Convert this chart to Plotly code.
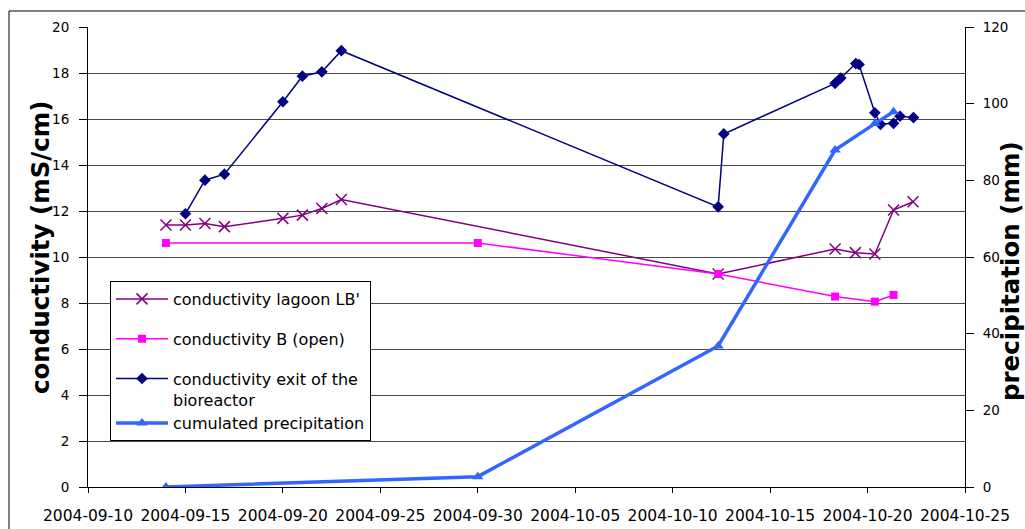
import plotly.graph_objects as go

# ---------------- data ----------------
lagoon_dates = ["2004-09-14", "2004-09-15", "2004-09-16", "2004-09-17",
                "2004-09-20", "2004-09-21", "2004-09-22", "2004-09-23",
                "2004-10-12 08:00", "2004-10-18 08:00", "2004-10-19 09:00",
                "2004-10-20 09:00", "2004-10-21 08:00", "2004-10-22 08:00"]
lagoon_vals = [11.39, 11.39, 11.46, 11.32, 11.68, 11.82, 12.11, 12.5,
               9.26, 10.35, 10.19, 10.13, 12.04, 12.4]

open_dates = ["2004-09-14", "2004-09-30", "2004-10-12 08:00",
              "2004-10-18 08:00", "2004-10-20 09:00", "2004-10-21 08:00"]
open_vals = [10.61, 10.61, 9.26, 8.28, 8.06, 8.35]

exit_dates = ["2004-09-15", "2004-09-16", "2004-09-17", "2004-09-20",
              "2004-09-21", "2004-09-22", "2004-09-23",
              "2004-10-12 08:00", "2004-10-12 15:00",
              "2004-10-18 08:00", "2004-10-18 15:00",
              "2004-10-19 09:30", "2004-10-19 13:30",
              "2004-10-20 09:00", "2004-10-20 16:00",
              "2004-10-21 08:00", "2004-10-21 16:00", "2004-10-22 08:30"]
exit_vals = [11.88, 13.34, 13.6, 16.75, 17.86, 18.05, 18.97,
             12.18, 15.35, 17.55, 17.78, 18.41, 18.37,
             16.27, 15.77, 15.81, 16.12, 16.06]

precip_dates = ["2004-09-14", "2004-09-30", "2004-10-12 08:00",
                "2004-10-18 08:00", "2004-10-20 09:00", "2004-10-21 08:00"]
precip_vals = [0, 2.7, 36.8, 87.9, 94.8, 97.9]

series_names = ["conductivity lagoon LB'", "conductivity B (open)",
                "conductivity exit of the<br>bioreactor", "cumulated precipitation"]

# ---------------- layout helpers ----------------
W, H = 1025, 529
ML, MR, MT, MB = 88, 60, 27, 42
PW, PH = W - ML - MR, H - MT - MB


def px(x):
    return (x - ML) / PW


def py(y):
    return (H - MB - y) / PH


FONT = "DejaVu Sans"

fig = go.Figure()

fig.add_trace(go.Scatter(
    x=lagoon_dates, y=lagoon_vals, name=series_names[0], mode="lines+markers",
    line=dict(color="#800080", width=1.5),
    marker=dict(symbol="x-thin", size=11, color="#800080",
                line=dict(width=1.5, color="#800080")),
    legendgroup="a"))

fig.add_trace(go.Scatter(
    x=open_dates, y=open_vals, name=series_names[1], mode="lines+markers",
    line=dict(color="#FF00FF", width=1.5),
    marker=dict(symbol="square", size=8, color="#FF00FF"),
    legendgroup="b"))

fig.add_trace(go.Scatter(
    x=exit_dates, y=exit_vals, name=series_names[2], mode="lines+markers",
    line=dict(color="#000080", width=1.5),
    marker=dict(symbol="diamond", size=9, color="#000080"),
    legendgroup="c"))

fig.add_trace(go.Scatter(
    x=precip_dates, y=precip_vals, name=series_names[3], mode="lines+markers",
    line=dict(color="#3366FF", width=3.5),
    marker=dict(symbol="triangle-up", size=10, color="#3366FF"),
    yaxis="y2", legendgroup="c"))

fig.update_layout(
    width=W, height=H,
    margin=dict(l=ML, r=MR, t=MT, b=MB, autoexpand=False),
    paper_bgcolor="white", plot_bgcolor="white",
    font=dict(family=FONT, color="black"),
    xaxis=dict(
        type="date", range=["2004-09-10", "2004-10-25"],
        tick0="2004-09-10", dtick=5 * 86400000, tickformat="%Y-%m-%d",
        showline=True, linecolor="black", linewidth=1,
        ticks="outside", ticklen=5, tickcolor="black",
        showgrid=False, zeroline=False,
        tickfont=dict(family=FONT, size=15.5, color="black"),
        ticklabelstandoff=9),
    yaxis=dict(
        range=[0, 20], dtick=2, tick0=0,
        showline=True, linecolor="black", linewidth=1,
        ticks="outside", ticklen=8, tickcolor="black",
        showgrid=True, gridcolor="#4a4a4a", gridwidth=1, zeroline=False,
        tickfont=dict(family=FONT, size=13.5, color="black"),
        ticklabelstandoff=7),
    yaxis2=dict(
        range=[0, 120], dtick=20, tick0=0, overlaying="y", side="right",
        showline=True, linecolor="black", linewidth=1,
        ticks="outside", ticklen=8, tickcolor="black",
        showgrid=False, zeroline=False,
        tickfont=dict(family=FONT, size=13.5, color="black"),
        ticklabelstandoff=6),
    legend=dict(
        x=px(110), y=py(281), xanchor="left", yanchor="top",
        bgcolor="white", bordercolor="black", borderwidth=1,
        font=dict(family=FONT, size=16, color="black"),
        itemwidth=52, tracegroupgap=16, traceorder="grouped", valign="top"),
    annotations=[
        dict(text="<b>conductivity (mS/cm)</b>", x=px(40), y=py(247),
             xref="paper", yref="paper", textangle=-90, showarrow=False,
             xanchor="center", yanchor="middle",
             font=dict(family=FONT, size=24.5, color="black")),
        dict(text="<b>precipitation (mm)</b>", x=px(1010), y=py(271),
             xref="paper", yref="paper", textangle=-90, showarrow=False,
             xanchor="center", yanchor="middle",
             font=dict(family=FONT, size=24.5, color="black")),
    ],
    shapes=[
        dict(type="rect", xref="paper", yref="paper",
             x0=px(9), x1=px(1045), y0=py(560), y1=py(11),
             line=dict(color="black", width=1), fillcolor="rgba(0,0,0,0)",
             layer="above"),
    ],
)

# remove the default page margin so the 1025x529 figure fills the window
fig.write_html(
    "out.html",
    config={"displayModeBar": False},
    post_script="document.body.style.margin='0';"
                "document.documentElement.style.overflow='hidden';",
)
